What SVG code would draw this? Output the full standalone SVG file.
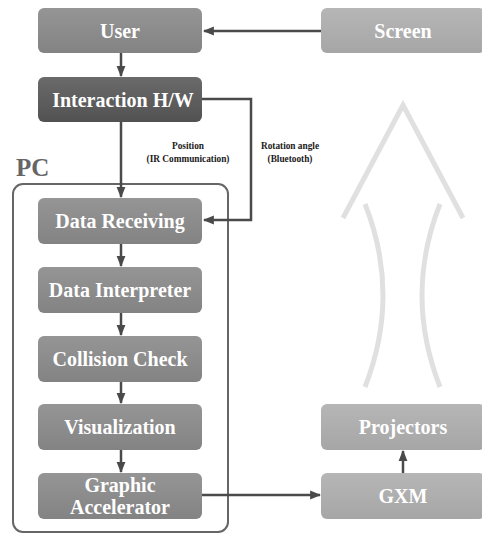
<svg xmlns="http://www.w3.org/2000/svg" width="482" height="536" viewBox="0 0 482 536">
<defs>
<linearGradient id="gMid" x1="0" y1="0" x2="0" y2="1"><stop offset="0" stop-color="#959595"/><stop offset="1" stop-color="#838383"/></linearGradient>
<linearGradient id="gDark" x1="0" y1="0" x2="0" y2="1"><stop offset="0" stop-color="#6a6a6a"/><stop offset="1" stop-color="#525252"/></linearGradient>
<linearGradient id="gLight" x1="0" y1="0" x2="0" y2="1"><stop offset="0" stop-color="#b6b6b6"/><stop offset="1" stop-color="#a6a6a6"/></linearGradient>
<marker id="ah" viewBox="0 0 10 10" refX="9" refY="5" markerWidth="4.4" markerHeight="4.4" orient="auto" markerUnits="strokeWidth"><path d="M0,1 L10,5 L0,9 z" fill="#4a4a4a"/></marker>
</defs>
<style>
.box{stroke:none}
.lbl{font-family:"Liberation Serif","Times New Roman",serif;font-weight:bold;font-size:20px;fill:#ffffff;text-anchor:middle}
.small{font-family:"Liberation Serif","Times New Roman",serif;font-weight:bold;font-size:9.3px;fill:#1a1a1a;text-anchor:middle}
.conn{stroke:#4a4a4a;stroke-width:2.5;fill:none}
.deco{stroke:#e0e0e0;stroke-width:5;fill:none}
</style>
<rect width="482" height="536" fill="#ffffff"/>
<g id="decor">
<path class="deco" d="M343,218 L403,105 L463,218"/>
<path class="deco" d="M365,204 Q401,295 365,387"/>
<path class="deco" d="M440,204 Q404,295 440,387"/>
</g>
<g id="pc">
<rect x="13" y="184" width="215" height="348" rx="10" fill="none" stroke="#666" stroke-width="2"/>
<text x="16" y="176" font-family="Liberation Serif, serif" font-weight="bold" font-size="25" fill="#666">PC</text>
</g>
<g id="user"><rect class="box" x="38" y="8" width="164" height="45" rx="6" fill="url(#gMid)"/><text class="lbl" x="120" y="38">User</text></g>
<g id="screen"><rect class="box" x="321" y="8" width="164" height="45" rx="6" fill="url(#gLight)"/><text class="lbl" x="403" y="38">Screen</text></g>
<g id="interaction"><rect class="box" x="38" y="77" width="164" height="45" rx="6" fill="url(#gDark)"/><text class="lbl" x="123" y="107">Interaction H/W</text></g>
<g id="receiving"><rect class="box" x="38" y="198" width="164" height="46" rx="6" fill="url(#gMid)"/><text class="lbl" x="120" y="228">Data Receiving</text></g>
<g id="interpreter"><rect class="box" x="38" y="267" width="164" height="46" rx="6" fill="url(#gMid)"/><text class="lbl" x="120" y="297">Data Interpreter</text></g>
<g id="collision"><rect class="box" x="38" y="336" width="164" height="46" rx="6" fill="url(#gMid)"/><text class="lbl" x="120" y="366">Collision Check</text></g>
<g id="visualization"><rect class="box" x="38" y="404" width="164" height="46" rx="6" fill="url(#gMid)"/><text class="lbl" x="120" y="434">Visualization</text></g>
<g id="accelerator"><rect class="box" x="38" y="473" width="164" height="46" rx="6" fill="url(#gMid)"/><text class="lbl" x="120" y="492">Graphic</text><text class="lbl" x="120" y="514">Accelerator</text></g>
<g id="projectors"><rect class="box" x="321" y="404" width="164" height="46" rx="6" fill="url(#gLight)"/><text class="lbl" x="403" y="434">Projectors</text></g>
<g id="gxm"><rect class="box" x="321" y="473" width="164" height="46" rx="6" fill="url(#gLight)"/><text class="lbl" x="403" y="503">GXM</text></g>
<g id="connectors">
<line class="conn" x1="321" y1="31" x2="204" y2="31" marker-end="url(#ah)"/>
<line class="conn" x1="121" y1="53" x2="121" y2="76" marker-end="url(#ah)"/>
<line class="conn" x1="121" y1="122" x2="121" y2="197" marker-end="url(#ah)"/>
<polyline class="conn" points="202,99 251,99 251,220 204,220" marker-end="url(#ah)"/>
<line class="conn" x1="121" y1="244" x2="121" y2="266" marker-end="url(#ah)"/>
<line class="conn" x1="121" y1="313" x2="121" y2="335" marker-end="url(#ah)"/>
<line class="conn" x1="121" y1="382" x2="121" y2="403" marker-end="url(#ah)"/>
<line class="conn" x1="121" y1="450" x2="121" y2="472" marker-end="url(#ah)"/>
<line class="conn" x1="202" y1="495" x2="320" y2="495" marker-end="url(#ah)"/>
<line class="conn" x1="403" y1="473" x2="403" y2="451" marker-end="url(#ah)"/>
<text class="small" x="188" y="149">Position</text>
<text class="small" x="188" y="162">(IR Communication)</text>
<text class="small" x="290" y="149">Rotation angle</text>
<text class="small" x="290" y="162">(Bluetooth)</text>
</g>
</svg>
